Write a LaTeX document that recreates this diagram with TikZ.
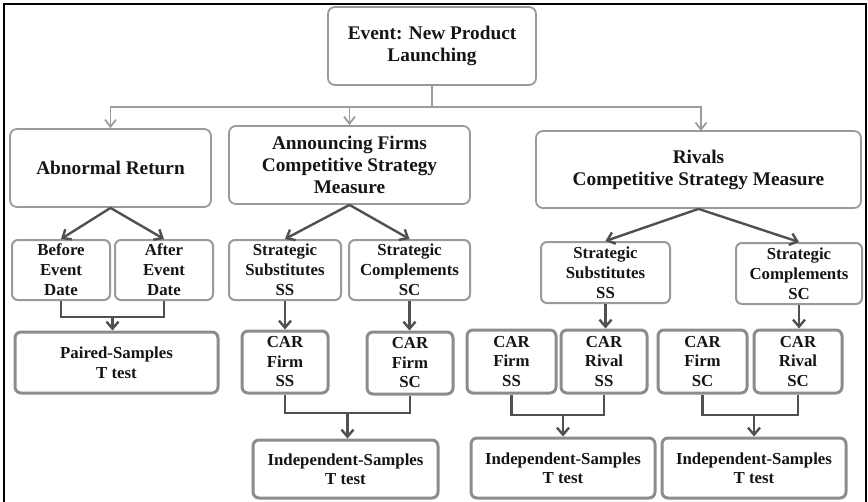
\documentclass[tikz,border=0pt]{standalone}
\usepackage{fontspec}
\setmainfont{Liberation Serif}
\usetikzlibrary{arrows.meta,calc}
\definecolor{boxgray}{HTML}{9A9A9A}
\definecolor{boxdark}{HTML}{8C8C8C}
\definecolor{lingray}{HTML}{9C9C9C}
\definecolor{lindark}{HTML}{505050}
\definecolor{txt}{HTML}{151515}
\begin{document}
\begin{tikzpicture}[x=1pt,y=-1pt,
  topbox/.style={draw=boxgray, line width=1.8pt, rounded corners=7pt, align=center, inner sep=0pt, text=txt,
    font=\bfseries\fontsize{19.3}{22}\selectfont},
  midbox/.style={draw=boxgray, line width=2pt, rounded corners=6pt, align=center, inner sep=0pt, text=txt,
    font=\bfseries\fontsize{16.8}{20}\selectfont},
  lowbox/.style={draw=boxdark, line width=3pt, rounded corners=6pt, align=center, inner sep=0pt, text=txt,
    font=\bfseries\fontsize{16.8}{19.5}\selectfont},
  garrow/.style={draw=lingray, line width=1.8pt, -{Straight Barb[length=7pt,width=11pt]}},
  gline/.style={draw=lingray, line width=1.8pt},
  darrow/.style={draw=lindark, line width=2.4pt, -{Straight Barb[length=7pt,width=12pt]}},
  dline/.style={draw=lindark, line width=2.4pt}]
\useasboundingbox (0,0) rectangle (868,501);
\fill[white] (0,0) rectangle (868,501);
\draw[line width=1.5pt, black] (4,512) -- (4,4) -- (866,4) -- (866,512);

% top level
\node[topbox, minimum width=208pt, minimum height=78pt] (event) at (432,46) {Event: New Product\\Launching};
\node[topbox, minimum width=201pt, minimum height=78pt] (abn) at (110.5,168) {Abnormal Return};
\node[topbox, minimum width=241pt, minimum height=78pt] (ann) at (349.5,165) {Announcing Firms\\Competitive Strategy\\Measure};
\node[topbox, minimum width=325pt, minimum height=77pt] (riv) at (698.5,169.5) {Rivals\\Competitive Strategy Measure};

% second level
\node[midbox, minimum width=98pt, minimum height=60pt] (before) at (61,270) {Before\\Event\\Date};
\node[midbox, minimum width=98pt, minimum height=60pt] (after) at (164,270) {After\\Event\\Date};
\node[midbox, minimum width=112pt, minimum height=60pt] (annss) at (285,270) {Strategic\\Substitutes\\SS};
\node[midbox, minimum width=121pt, minimum height=60pt] (annsc) at (409.5,270) {Strategic\\Complements\\SC};
\node[midbox, minimum width=129pt, minimum height=61pt] (rivss) at (605.5,272.5) {Strategic\\Substitutes\\SS};
\node[midbox, minimum width=126pt, minimum height=61pt] (rivsc) at (799,273.5) {Strategic\\Complements\\SC};

% third level
\node[lowbox, minimum width=203pt, minimum height=61pt] (paired) at (116.5,362.5) {Paired-Samples\\T test};
\node[lowbox, minimum width=86pt, minimum height=62pt] (carfss) at (285,362) {CAR\\Firm\\SS};
\node[lowbox, minimum width=86pt, minimum height=62pt] (carfsc) at (410,363) {CAR\\Firm\\SC};
\node[lowbox, minimum width=89pt, minimum height=63pt] (rcfss) at (511.5,361.5) {CAR\\Firm\\SS};
\node[lowbox, minimum width=86pt, minimum height=63pt] (rcrss) at (604,361.5) {CAR\\Rival\\SS};
\node[lowbox, minimum width=89pt, minimum height=63pt] (rcfsc) at (702.5,361.5) {CAR\\Firm\\SC};
\node[lowbox, minimum width=88pt, minimum height=63pt] (rcrsc) at (798,361.5) {CAR\\Rival\\SC};

% bottom level
\node[lowbox, minimum width=185pt, minimum height=58pt] (ind1) at (345.5,469) {Independent-Samples\\T test};
\node[lowbox, minimum width=184pt, minimum height=60pt] (ind2) at (563,468) {Independent-Samples\\T test};
\node[lowbox, minimum width=184pt, minimum height=60pt] (ind3) at (754,468) {Independent-Samples\\T test};

% event connectors
\coordinate (ev) at (432,107);
\draw[gline] (event.south) -- (ev);
\draw[garrow] (ev) -| (abn.north);
\draw[garrow] (ev) -| (ann.north);
\draw[garrow] (ev) -| (701,131);

% dark diagonal arrows
\draw[darrow] (abn.south) -- (before.north);
\draw[darrow] (abn.south) -- (after.north);
\draw[darrow] (ann.south) -- (annss.north);
\draw[darrow] (ann.south) -- (annsc.north);
\draw[darrow] (riv.south) -- (rivss.north);
\draw[darrow] (riv.south) -- (rivsc.north);

% before/after -> paired
\draw[dline] (before.south) -- ++(0,16) -| (after.south);
\coordinate (m1) at ($(before.south)!0.5!(after.south)+(0,16)$);
\draw[darrow] (m1) -- (m1 |- paired.north);

% strategic -> CAR
\draw[darrow] (annss.south) -- (annss.south |- carfss.north);
\draw[darrow] (annsc.south) -- (annsc.south |- carfsc.north);
\draw[darrow] (rivss.south) -- (rivss.south |- rcrss.north);
\draw[darrow] (rivsc.south) -- (rivsc.south |- rcrsc.north);

% CAR -> independent
\coordinate (j1) at (0,413);
\draw[dline] (carfss.south) -- (carfss.south |- j1) -| (carfsc.south);
\coordinate (m2) at ($(carfss.south |- j1)!0.5!(carfsc.south |- j1)$);
\draw[darrow] (m2) -- (m2 |- ind1.north);

\coordinate (j2) at (0,415);
\draw[dline] (rcfss.south) -- (rcfss.south |- j2) -| (rcrss.south);
\draw[darrow] (ind2.north |- j2) -- (ind2.north);
\draw[dline] (rcfsc.south) -- (rcfsc.south |- j2) -| (rcrsc.south);
\draw[darrow] (ind3.north |- j2) -- (ind3.north);
\end{tikzpicture}
\end{document}
